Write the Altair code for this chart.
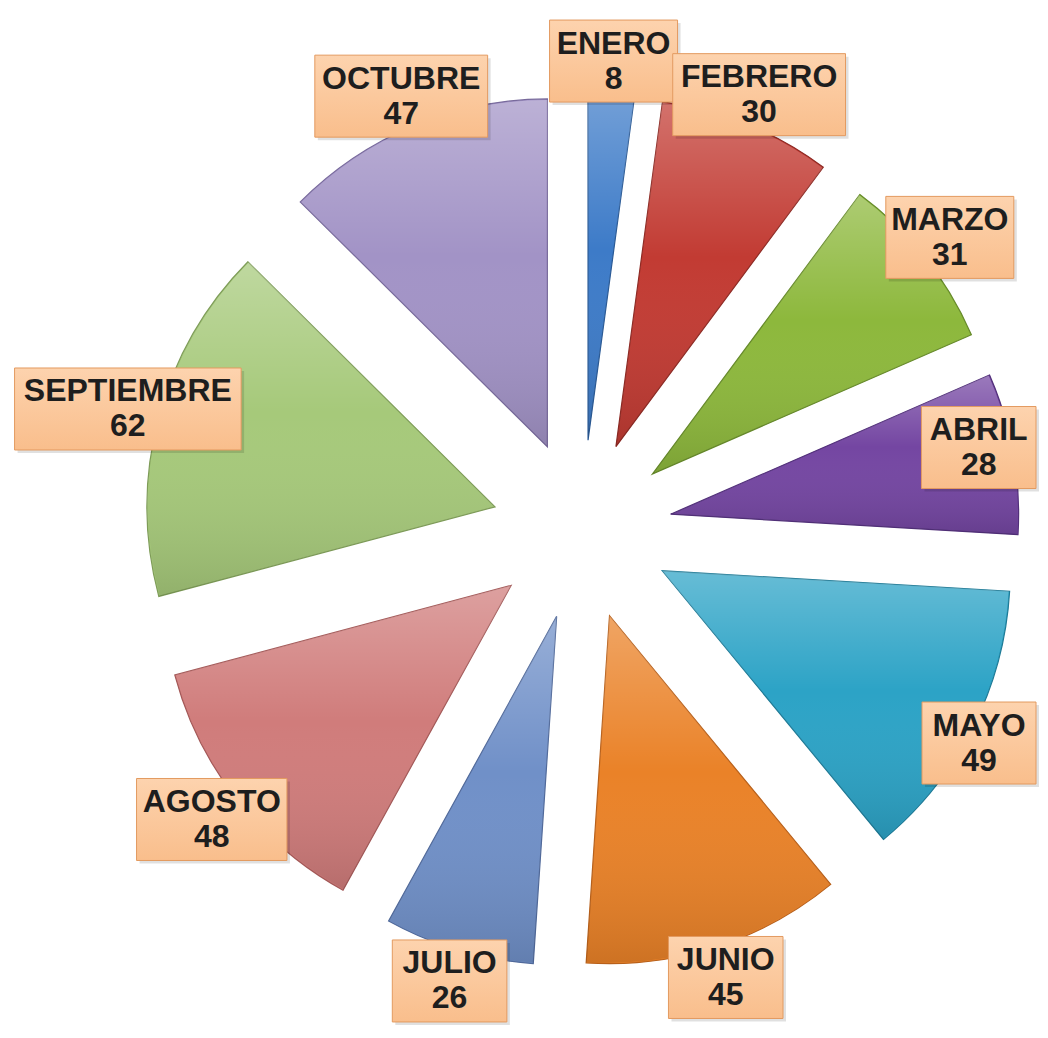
import altair as alt
import pandas as pd

meses = ["ENERO", "FEBRERO", "MARZO", "ABRIL", "MAYO", "JUNIO",
         "JULIO", "AGOSTO", "SEPTIEMBRE", "OCTUBRE"]
valores = [8, 30, 31, 28, 49, 45, 26, 48, 62, 47]
colores = ["#3D7BC8", "#C23B33", "#8DB83C", "#7446A2", "#2CA3C6", "#EA8228",
           "#7090C8", "#D07C7B", "#A6C97A", "#A293C6"]
bordes = ["#2A5A96", "#8E2A24", "#668A2A", "#52307A", "#1E7A96", "#B8601A",
          "#50699A", "#A35857", "#7E9C58", "#786A9C"]

df = pd.DataFrame({"mes": meses, "valor": valores, "orden": list(range(len(meses)))})

W, H = 1032, 1022
CX, CY = 574, 522      # pie centre inside the plot area
E = 90                 # explode distance
R = 348                # slice radius
RL = 470               # label radius
FS = 32                # label font size
LH = 35                # line height
BH = 41                # half box height

base = alt.Chart(df).transform_window(
    cum="sum(valor)", sort=[{"field": "orden"}], frame=[None, 0]
).transform_joinaggregate(
    total="sum(valor)"
).transform_calculate(
    a0="2*PI*(datum.cum - datum.valor)/datum.total",
    a1="2*PI*datum.cum/datum.total",
).transform_calculate(
    am="(datum.a0 + datum.a1)/2"
).transform_calculate(
    cx=f"{CX} + {E}*sin(datum.am)",
    cy=f"{CY} - {E}*cos(datum.am)",
    w=f"max(114, {FS}*(0.7*length(datum.mes) - 0.42*(length(split(datum.mes, 'I')) - 1)) + 16)",
    etiqueta="[datum.mes, '' + datum.valor]",
).transform_calculate(
    lx=f"clamp({CX} + {RL}*sin(datum.am), datum.w/2 + 4, {W} - datum.w/2 - 4)",
    ly=f"clamp({CY} - {RL}*cos(datum.am), {BH} + 4, {H} - {BH} - 4)",
).transform_calculate(
    bx0="datum.lx - datum.w/2",
    bx1="datum.lx + datum.w/2",
    by0=f"datum.ly - {BH}",
    by1=f"datum.ly + {BH}",
    sx0="datum.lx - datum.w/2 + 3",
    sx1="datum.lx + datum.w/2 + 3",
    sy0=f"datum.ly - {BH} + 3",
    sy1=f"datum.ly + {BH} + 3",
)

arc_enc = dict(
    theta=alt.Theta("a0:Q", scale=None),
    theta2="a1:Q",
    x=alt.X("cx:Q", scale=None, axis=None),
    y=alt.Y("cy:Q", scale=None, axis=None),
)

arcs = base.mark_arc(radius=R, strokeWidth=1.2).encode(
    color=alt.Color("mes:N", scale=alt.Scale(domain=meses, range=colores), legend=None),
    stroke=alt.Stroke("mes:N", scale=alt.Scale(domain=meses, range=bordes), legend=None),
    **arc_enc,
)

shade = base.mark_arc(
    radius=R - 1,
    fill=alt.Gradient(
        gradient="linear", x1=0, y1=0, x2=0, y2=1,
        stops=[
            alt.GradientStop(offset=0, color="rgba(255,255,255,0.28)"),
            alt.GradientStop(offset=0.45, color="rgba(255,255,255,0.0)"),
            alt.GradientStop(offset=1, color="rgba(0,0,0,0.12)"),
        ],
    ),
).encode(**arc_enc)

shadow = base.mark_rect(fill="#000000", opacity=0.12).encode(
    x=alt.X("sx0:Q", scale=None, axis=None), x2="sx1:Q",
    y=alt.Y("sy0:Q", scale=None, axis=None), y2="sy1:Q",
)

boxes = base.mark_rect(
    stroke="#E39A60", strokeWidth=1,
    fill=alt.Gradient(
        gradient="linear", x1=0, y1=0, x2=0, y2=1,
        stops=[
            alt.GradientStop(offset=0, color="#FDD3AE"),
            alt.GradientStop(offset=1, color="#F9BE8C"),
        ],
    ),
).encode(
    x=alt.X("bx0:Q", scale=None, axis=None), x2="bx1:Q",
    y=alt.Y("by0:Q", scale=None, axis=None), y2="by1:Q",
)

texts = base.mark_text(font="Liberation Sans", fontWeight="bold", fontSize=FS,
                       lineHeight=LH, color="#1E1E1E", align="center",
                       baseline="middle", dy=-LH / 2).encode(
    x=alt.X("lx:Q", scale=None, axis=None),
    y=alt.Y("ly:Q", scale=None, axis=None),
    text=alt.Text("etiqueta:N"),
)

chart = alt.layer(arcs, shade, shadow, boxes, texts).properties(
    width=W, height=H, padding=0, autosize=alt.AutoSizeParams(type="none")
).configure_view(stroke=None)

chart.save("out.html", embed_options={"renderer": "svg", "actions": False})
